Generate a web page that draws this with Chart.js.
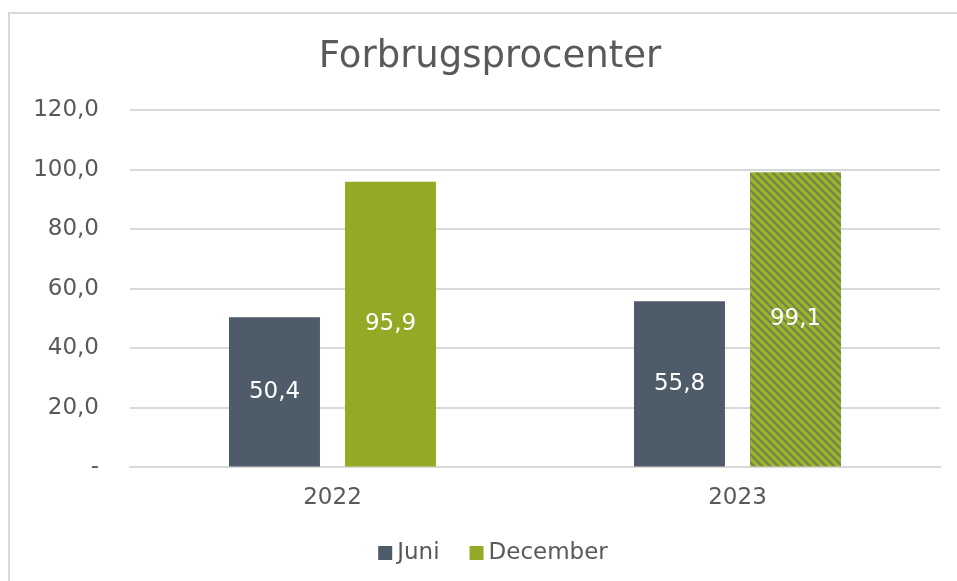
<!DOCTYPE html>
<html>
<head>
<meta charset="utf-8">
<script src="https://cdn.jsdelivr.net/npm/chart.js@4"></script>
<style>
  html, body { margin: 0; padding: 0; background: #fff; }
  #wrap { position: relative; width: 957px; height: 581px; overflow: hidden; }
  #frame { position: absolute; left: 8px; top: 12px; width: 1000px; height: 1000px;
           border-left: 2px solid #d9d9d9; border-top: 2px solid #d9d9d9; }
  canvas { position: absolute; left: 0; top: 0; }
</style>
</head>
<body>
<div id="wrap">
  <div id="frame"></div>
  <canvas id="chart" width="957" height="581"></canvas>
</div>
<script>
const years = ["2022", "2023"];
const juni = [50.4, 55.8];
const december = [95.9, 99.1];
const chartTitle = "Forbrugsprocenter";

const FONT = "'DejaVu Sans', Verdana, sans-serif";
const TEXT = "#595959";
const SLATE = "#4e5b69";
const GREEN = "#95a927";

function fmt(v) {
    return v.toFixed(1).replace(".", ",");
}

// hatched fill for the 2023 December bar ("\" stripes)
function makeHatch() {
    const s = 8;
    const c = document.createElement("canvas");
    c.width = s;
    c.height = s;
    const g = c.getContext("2d");
    g.fillStyle = "#9ab52a";
    g.fillRect(0, 0, s, s);
    g.strokeStyle = "#737f56";
    g.lineWidth = 2;
    g.beginPath();
    g.moveTo(-2, -2); g.lineTo(s + 2, s + 2);
    g.moveTo(-s - 2, -2); g.lineTo(2, s + 2);
    g.moveTo(s - 2, -2); g.lineTo(2 * s + 2, s + 2);
    g.stroke();
    return g.createPattern(c, "repeat");
}

const ctx = document.getElementById("chart").getContext("2d");
const hatch = makeHatch();

// value labels in the bars, title and legend (Excel places them over the frame, not the canvas)
const extras = {
    id: "extras",
    afterDatasetsDraw(chart) {
        const c = chart.ctx;
        c.save();
        c.textBaseline = "middle";

        c.fillStyle = "#ffffff";
        c.font = "23px " + FONT;
        c.textAlign = "center";
        chart.data.datasets.forEach((ds, i) => {
            chart.getDatasetMeta(i).data.forEach((bar, j) => {
                c.fillText(fmt(ds.data[j]), bar.x, (bar.y + bar.base) / 2);
            });
        });

        c.fillStyle = TEXT;
        c.font = "37px " + FONT;
        c.fillText(chartTitle, 490, 57);

        // legend
        c.font = "23px " + FONT;
        c.textAlign = "left";
        const items = chart.data.datasets.map(ds => ({ text: ds.label, color: ds.legendColor }));
        const box = 14, gap = 5, spacing = 30;
        let total = 0;
        items.forEach((it, i) => {
            total += box + gap + c.measureText(it.text).width + (i ? spacing : 0);
        });
        let x = 493 - total / 2;
        const y = 553;
        items.forEach(it => {
            c.fillStyle = it.color;
            c.fillRect(x, y - box / 2, box, box);
            x += box + gap;
            c.fillStyle = TEXT;
            c.fillText(it.text, x, y);
            x += c.measureText(it.text).width + spacing;
        });
        c.restore();
    }
};

new Chart(ctx, {
    type: "bar",
    data: {
        labels: years,
        datasets: [{
            label: "Juni",
            data: juni,
            backgroundColor: SLATE,
            legendColor: SLATE
        }, {
            label: "December",
            data: december,
            backgroundColor: [GREEN, hatch],
            legendColor: GREEN
        }]
    },
    options: {
        responsive: false,
        animation: false,
        categoryPercentage: 0.573,
        barPercentage: 0.784,
        layout: { padding: { top: 110, right: 17, bottom: 52, left: 0 } },
        plugins: {
            title: { display: false },
            legend: { display: false },
            tooltip: { enabled: false }
        },
        scales: {
            x: {
                grid: { display: false, drawTicks: false },
                border: { color: "#d9d9d9", width: 2 },
                ticks: { color: TEXT, font: { family: FONT, size: 23 }, padding: 17 }
            },
            y: {
                min: 0,
                max: 120,
                afterFit(scale) { scale.width = 130; },
                grid: { color: "#d9d9d9", lineWidth: 2, drawTicks: false },
                border: { display: false },
                ticks: {
                    stepSize: 20,
                    color: TEXT,
                    font: { family: FONT, size: 23 },
                    padding: 31,
                    callback: v => v === 0 ? "-" : fmt(v)
                }
            }
        }
    },
    plugins: [extras]
});
</script>
</body>
</html>
